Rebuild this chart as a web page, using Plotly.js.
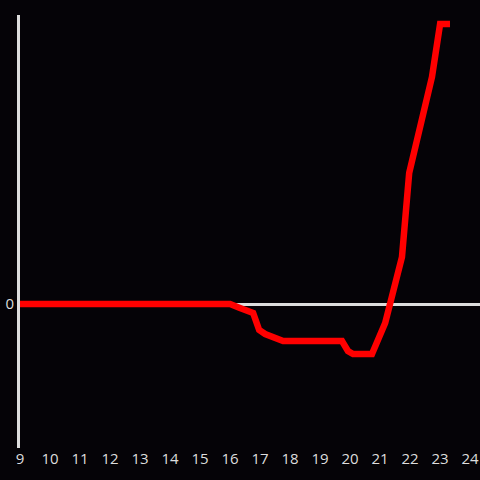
<!DOCTYPE html>
<html>
<head>
<meta charset="utf-8">
<script src="https://cdn.plot.ly/plotly-3.0.1.min.js"></script>
<style>html,body{margin:0;padding:0;background:#050307;}</style>
</head>
<body>
<div id="chart" style="width:480px;height:480px;"></div>
<script>
const hours = [9, 16.0, 16.33, 16.77, 16.97, 17.17, 17.77, 19.73, 19.93, 20.1, 20.73, 21.17, 21.73, 21.97, 22.73, 23.0, 23.33];
const values = [0, 0, -0.4, -0.9, -2.6, -3.0, -3.7, -3.7, -4.7, -5.0, -5.0, -1.9, 4.7, 13.1, 22.7, 28.0, 28.0];
const xTicks = [9, 10, 11, 12, 13, 14, 15, 16, 17, 18, 19, 20, 21, 22, 23, 24];
const yTicks = [0];

Plotly.newPlot('chart', [{
  x: hours, y: values, type: 'scatter', mode: 'lines',
  line: {color: '#ff0000', width: 6.5}, hoverinfo: 'skip'
}], {
  width: 480, height: 480,
  paper_bgcolor: '#050307', plot_bgcolor: '#050307',
  margin: {l: 20, r: 0, t: 15, b: 32},
  showlegend: false,
  font: {color: '#dddddd', size: 15},
  xaxis: {range: [9, 24.33], tickvals: xTicks, ticktext: xTicks.map(String), showgrid: false, zeroline: false, showline: false, ticks: '', ticklen: 0},
  yaxis: {range: [-14.4, 28.9], tickvals: yTicks, ticktext: yTicks.map(String), showgrid: false, zeroline: true, zerolinecolor: '#dddddd', zerolinewidth: 3, showline: true, linecolor: '#dddddd', linewidth: 3, ticks: ''}
}, {displayModeBar: false, staticPlot: true});
</script>
</body>
</html>
